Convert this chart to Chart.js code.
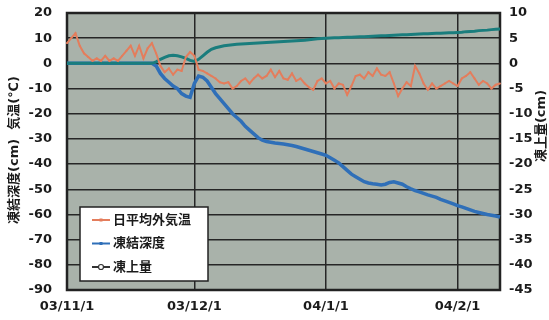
<!DOCTYPE html>
<html>
<head>
<meta charset="utf-8">
<script src="https://cdn.jsdelivr.net/npm/chart.js@4/dist/chart.umd.min.js"></script>
<style>
  html, body { margin: 0; padding: 0; background: #fff; }
  #wrap { width: 549px; height: 320px; }
</style>
</head>
<body>
<div id="wrap"><canvas id="c" width="549" height="320"></canvas></div>
<script>
// Daily series, 2003-11-01 .. 2004-02-11
const airTemp = [ // 日平均外気温 (°C)
  8, 10, 12, 7, 4, 2.5, 1, 2, 1, 3,
  1, 2, 1, 3, 5, 7, 3, 7, 2, 6,
  8, 4, -1, -3.5, -2, -4.5, -2.5, -3, 2.5, 4.5,
  3, -2.5, -3, -4, -5, -6, -7.5, -8, -7.5, -10,
  -9, -7, -6, -8, -6, -4.5, -6, -5, -2.5, -5.5,
  -3, -6, -6.5, -4, -7, -6, -8, -9.5, -10.5, -7,
  -6, -8, -7, -10, -8, -8.5, -12.5, -9, -5, -4.5,
  -6, -3.5, -5, -2, -4.5, -5, -3.5, -8, -13, -10,
  -7.5, -9, -1, -4, -8, -10.5, -8, -10, -9, -8,
  -7, -8, -9, -6, -5, -3.5, -6, -8.5, -7, -8,
  -10, -8.5, -8
];
const frostDepth = [ // 凍結深度 (cm)
  0, 0, 0, 0, 0, 0, 0, 0, 0, 0,
  0, 0, 0, 0, 0, 0, 0, 0, 0, 0,
  0, -1, -4, -6, -7.5, -9, -10, -12, -13, -13.5,
  -8, -5, -5.5, -7, -9.5, -12, -14, -16, -18, -20,
  -21.5, -23, -25, -26.5, -28, -29.5, -30.5, -31, -31.3, -31.6,
  -31.8, -32, -32.3, -32.6, -33, -33.5, -34, -34.5, -35, -35.5,
  -36, -36.5, -37.5, -38.5, -39.5, -41, -42.5, -44, -45, -46,
  -47, -47.5, -47.8, -48, -48.3, -48, -47.3, -47, -47.5, -48,
  -49, -49.8, -50.5, -51, -51.6, -52.2, -52.7, -53.2, -54, -54.6,
  -55.2, -55.8, -56.5, -57, -57.6, -58.2, -58.8, -59.2, -59.6, -60,
  -60.3, -60.6, -61
];
const frostHeave = [ // 凍上量 (cm)
  0, 0, 0, 0, 0, 0, 0, 0, 0, 0,
  0, 0, 0, 0, 0, 0, 0, 0, 0, 0,
  0, 0.3, 0.8, 1.2, 1.5, 1.6, 1.5, 1.3, 1.0, 0.6,
  0.4, 0.8, 1.5, 2.2, 2.8, 3.1, 3.3, 3.5, 3.6, 3.7,
  3.8, 3.85, 3.9, 3.95, 4.0, 4.05, 4.1, 4.15, 4.2, 4.25,
  4.3, 4.35, 4.4, 4.45, 4.5, 4.55, 4.6, 4.7, 4.8, 4.9,
  4.95, 5.0, 5.05, 5.1, 5.1, 5.15, 5.2, 5.2, 5.25, 5.3,
  5.3, 5.35, 5.4, 5.45, 5.5, 5.5, 5.55, 5.6, 5.65, 5.7,
  5.7, 5.75, 5.8, 5.85, 5.9, 5.9, 5.95, 6.0, 6.0, 6.05,
  6.1, 6.1, 6.15, 6.2, 6.3, 6.35, 6.4, 6.5, 6.55, 6.6,
  6.7, 6.75, 6.8
];
const seriesNames = ['日平均外気温', '凍結深度', '凍上量'];
const leftTitle = '凍結深度(cm)  気温(℃)';
const rightTitle = '凍上量(cm)';

// category labels: yy/m/d for each day
const dates = [];
for (let i = 0; i < airTemp.length; i++) {
  const d = new Date(2003, 10, 1 + i);
  dates.push(String(d.getFullYear() % 100).padStart(2, '0') + '/' + (d.getMonth() + 1) + '/' + d.getDate());
}
const isMonthStart = (i) => /\/1$/.test(dates[i]);

const COL_T = '#e47d5c';
const COL_D = '#2f6fb8';
const COL_H = '#1a7d7d';
const INK = '#1b1b1b';
const FONT = '"DejaVu Sans", "Noto Sans CJK JP", sans-serif';
const TICK_FONT = { family: FONT, size: 13, weight: 'bold' };

// vertical axes: fixed width, no extra label overhang above/below the plot
const fitVertical = (w) => (s) => { s.width = w; s.paddingTop = 0; s.paddingBottom = 0; };

const panel = {
  id: 'panel',
  beforeDraw(chart) {
    const { ctx, chartArea: a } = chart;
    ctx.save();
    ctx.fillStyle = '#a9b2aa';
    ctx.fillRect(a.left, a.top, a.right - a.left, a.bottom - a.top);
    ctx.restore();
  },
  beforeDatasetsDraw(chart) {
    const { ctx, chartArea: a } = chart;
    ctx.save();
    ctx.strokeStyle = '#222';
    ctx.lineWidth = 2.5;
    ctx.strokeRect(a.left, a.top, a.right - a.left, a.bottom - a.top);
    ctx.restore();
  },
  afterDraw(chart) {
    const { ctx } = chart;
    ctx.save();
    ctx.fillStyle = INK;
    ctx.font = 'bold 13px ' + FONT;
    ctx.textAlign = 'center';
    ctx.textBaseline = 'middle';
    // left axis title
    ctx.save();
    ctx.translate(15, 150);
    ctx.rotate(-Math.PI / 2);
    ctx.fillText(leftTitle, 0, 0);
    ctx.restore();
    // right axis title
    ctx.save();
    ctx.translate(542, 126);
    ctx.rotate(-Math.PI / 2);
    ctx.fillText(rightTitle, 0, 0);
    ctx.restore();

    // legend box
    const bx = 80, by = 207, bw = 128, bh = 74;
    ctx.fillStyle = '#fff';
    ctx.fillRect(bx, by, bw, bh);
    ctx.strokeStyle = '#222';
    ctx.lineWidth = 1.5;
    ctx.strokeRect(bx, by, bw, bh);
    const cols = [COL_T, COL_D, '#333'];
    ctx.font = 'bold 13px ' + FONT;
    ctx.textAlign = 'left';
    seriesNames.forEach((name, i) => {
      const y = by + 13 + i * 23.5;
      ctx.strokeStyle = cols[i];
      ctx.lineWidth = 2;
      ctx.beginPath();
      ctx.moveTo(bx + 12, y);
      ctx.lineTo(bx + 30, y);
      ctx.stroke();
      if (i === 2) {
        ctx.fillStyle = '#fff';
        ctx.beginPath();
        ctx.arc(bx + 21, y, 2.5, 0, Math.PI * 2);
        ctx.fill();
        ctx.lineWidth = 1.2;
        ctx.stroke();
      } else {
        ctx.fillStyle = cols[i];
        ctx.fillRect(bx + 19.5, y - 1.5, 3, 3);
      }
      ctx.fillStyle = INK;
      ctx.fillText(name, bx + 33, y + 0.5);
    });
    ctx.restore();
  }
};

new Chart(document.getElementById('c'), {
  type: 'line',
  data: {
    labels: dates,
    datasets: [
      { label: seriesNames[0], data: airTemp, yAxisID: 'y', order: 0, borderColor: COL_T, backgroundColor: COL_T,
        borderWidth: 2, pointRadius: 1.2, pointStyle: 'rect', pointBorderWidth: 0, tension: 0 },
      { label: seriesNames[1], data: frostDepth, yAxisID: 'y', order: 2, borderColor: COL_D, backgroundColor: COL_D,
        borderWidth: 3.5, pointRadius: 0, tension: 0 },
      { label: seriesNames[2], data: frostHeave, yAxisID: 'y2', order: 1, borderColor: COL_H, backgroundColor: COL_H,
        borderWidth: 3, pointRadius: 0, tension: 0 }
    ]
  },
  options: {
    responsive: false,
    animation: false,
    devicePixelRatio: 1,
    layout: { padding: { top: 13, left: 0, right: 0, bottom: 0 } },
    plugins: { legend: { display: false }, tooltip: { enabled: false } },
    scales: {
      x: {
        type: 'category',
        offset: false,
        afterFit: (s) => { s.height = 30; },
        border: { display: false },
        grid: {
          drawTicks: false,
          lineWidth: 1.5,
          color: (c) => (c.index !== undefined && isMonthStart(c.index) ? '#262626' : 'rgba(0,0,0,0)')
        },
        ticks: {
          autoSkip: false, maxRotation: 0, minRotation: 0, padding: 9,
          color: INK, font: TICK_FONT,
          callback: (v, i) => (isMonthStart(i) ? dates[i] : '')
        }
      },
      y: {
        position: 'left', min: -90, max: 20,
        afterFit: fitVertical(67),
        border: { display: false },
        grid: { drawTicks: false, lineWidth: 1.5, color: '#262626' },
        ticks: { stepSize: 10, padding: 15, color: INK, font: TICK_FONT }
      },
      y2: {
        position: 'right', min: -45, max: 10,
        afterFit: fitVertical(49),
        border: { display: false },
        grid: { display: false, drawTicks: false },
        ticks: { stepSize: 5, padding: 9, color: INK, font: TICK_FONT }
      }
    }
  },
  plugins: [panel]
});
</script>
</body>
</html>
